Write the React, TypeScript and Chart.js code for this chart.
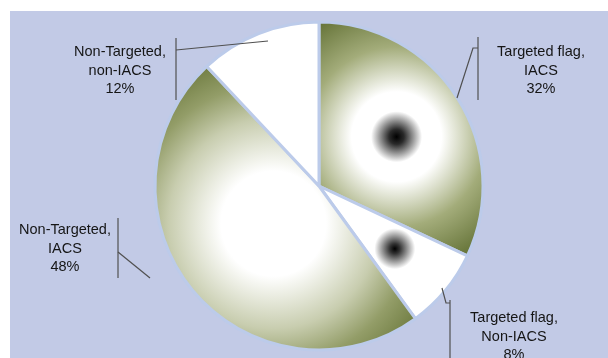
import React, { useEffect, useRef } from "react";
import { Chart, registerables } from "chart.js";

Chart.register(...registerables);

const categories = [
  "Targeted flag,\nIACS",
  "Targeted flag,\nNon-IACS",
  "Non-Targeted,\nIACS",
  "Non-Targeted,\nnon-IACS",
];
const shares = [32, 8, 48, 12];

const BG = "#c2cae6";
const GAP = "#bccbea";
const RADIUS = 164;

type Grad = { f: number; r: number; stops: [number, string][] } | null;
const grads: Grad[] = [
  {
    f: 0.56,
    r: 150,
    stops: [
      [0, "#000000"],
      [0.05, "#2a2a2a"],
      [0.17, "#ffffff"],
      [0.3, "#ffffff"],
      [0.6, "#a3ac7a"],
      [0.9, "#68763b"],
      [1, "#606d35"],
    ],
  },
  {
    f: 0.6,
    r: 34,
    stops: [
      [0, "#000000"],
      [0.15, "#333333"],
      [0.6, "#ffffff"],
      [1, "#ffffff"],
    ],
  },
  {
    f: 0.36,
    r: 175,
    stops: [
      [0, "#ffffff"],
      [0.3, "#ffffff"],
      [0.6, "#c8cdaf"],
      [0.8, "#939d68"],
      [1, "#6e7b40"],
    ],
  },
  null,
];

type Place = {
  x: number;
  y: number;
  poly: [number, number][];
  vert: [number, number][];
};
const places: Place[] = [
  { x: 541, y: 52, poly: [[457, 98], [473, 48], [478, 48]], vert: [[478, 37], [478, 100]] },
  { x: 514, y: 318, poly: [[442, 288], [446, 303], [450, 303]], vert: [[450, 300], [450, 358]] },
  { x: 65, y: 230, poly: [[150, 278], [118, 252]], vert: [[118, 218], [118, 278]] },
  { x: 120, y: 52, poly: [[268, 41], [176, 50]], vert: [[176, 38], [176, 100]] },
];

const bgPlugin = {
  id: "bgPlugin",
  beforeDraw(chart: any) {
    const ctx = chart.ctx;
    ctx.save();
    ctx.fillStyle = "#ffffff";
    ctx.fillRect(0, 0, chart.width, chart.height);
    ctx.fillStyle = BG;
    ctx.fillRect(10, 11, chart.width - 10, chart.height - 11);
    ctx.restore();
  },
};

const labelPlugin = {
  id: "labelPlugin",
  afterDraw(chart: any) {
    const ctx = chart.ctx;
    ctx.save();
    ctx.strokeStyle = "#505050";
    ctx.lineWidth = 1.2;
    places.forEach((p, i) => {
      ctx.beginPath();
      p.poly.forEach(([x, y], k) => (k === 0 ? ctx.moveTo(x, y) : ctx.lineTo(x, y)));
      ctx.stroke();
      ctx.beginPath();
      ctx.moveTo(p.vert[0][0], p.vert[0][1]);
      ctx.lineTo(p.vert[1][0], p.vert[1][1]);
      ctx.stroke();
      const lines = [...categories[i].split("\n"), `${shares[i]}%`];
      ctx.fillStyle = "#151515";
      ctx.font = '14.5px "Liberation Sans", Arial, sans-serif';
      ctx.textAlign = "center";
      ctx.textBaseline = "middle";
      lines.forEach((t, k) => ctx.fillText(t, p.x, p.y + k * 18.7));
    });
    ctx.restore();
  },
};

export default function App() {
  const ref = useRef<HTMLCanvasElement | null>(null);
  useEffect(() => {
    document.body.style.margin = "0";
    const total = shares.reduce((a, b) => a + b, 0);
    const chart = new Chart(ref.current as HTMLCanvasElement, {
      type: "pie",
      data: {
        labels: categories,
        datasets: [
          {
            data: shares,
            borderColor: GAP,
            borderWidth: 3,
            backgroundColor: (c: any) => {
              const ch = c.chart;
              const area = ch.chartArea;
              const idx = c.dataIndex;
              if (!area || idx === undefined) return "#ffffff";
              const g = grads[idx];
              if (!g) return "#ffffff";
              let before = 0;
              for (let i = 0; i < idx; i++) before += shares[i];
              const mid = ((before + shares[idx] / 2) / total) * Math.PI * 2 - Math.PI / 2;
              const cx = (area.left + area.right) / 2;
              const cy = (area.top + area.bottom) / 2;
              const x = cx + Math.cos(mid) * g.f * RADIUS;
              const y = cy + Math.sin(mid) * g.f * RADIUS;
              const grd = ch.ctx.createRadialGradient(x, y, 0, x, y, g.r);
              g.stops.forEach(([o, col]) => grd.addColorStop(o, col));
              return grd;
            },
          },
        ],
      },
      options: {
        responsive: false,
        animation: false,
        devicePixelRatio: 1,
        radius: RADIUS,
        layout: { padding: { left: 30, right: 0, top: 14, bottom: 0 } },
        plugins: {
          legend: { display: false },
          tooltip: { enabled: false },
        },
      } as any,
      plugins: [bgPlugin, labelPlugin],
    });
    return () => chart.destroy();
  }, []);
  return (
    <div style={{ position: "absolute", left: 0, top: 0, width: 608, height: 358 }}>
      <canvas ref={ref} width={608} height={358} />
    </div>
  );
}
